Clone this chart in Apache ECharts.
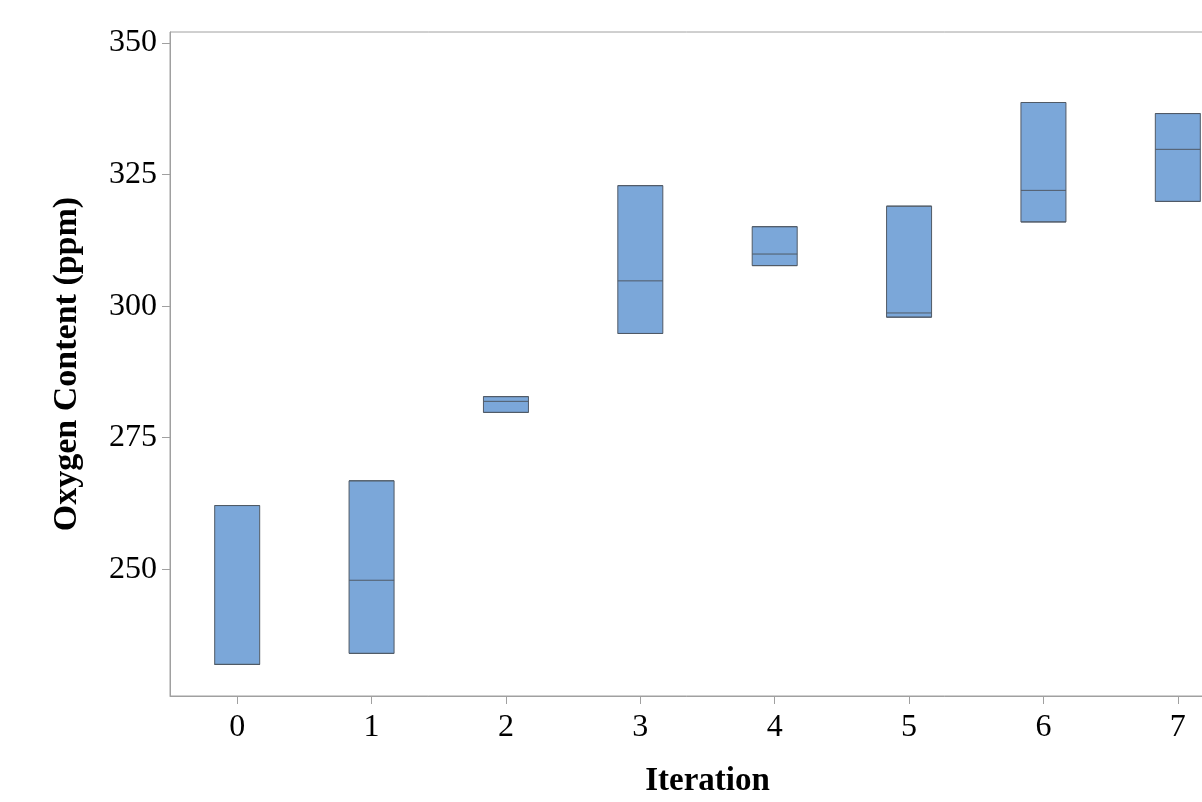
<!DOCTYPE html>
<html>
<head>
<meta charset="utf-8">
<style>
  html, body { margin: 0; padding: 0; background: #ffffff; }
  #chart { width: 1202px; height: 802px; }
</style>
<script src="https://cdn.jsdelivr.net/npm/echarts@6/dist/echarts.min.js"></script>
</head>
<body>
<div id="chart"></div>
<script>
// Oxygen content by iteration: lower quartile, median, upper quartile (ppm)
const iterations = ['0', '1', '2', '3', '4', '5', '6', '7'];
const lowerQuartile = [231.9, 234.0, 279.8, 294.8, 307.7, 297.9, 316.0, 319.9];
const medianValue  = [231.9, 247.9, 281.9, 304.8, 309.9, 298.7, 322.0, 329.8];
const upperQuartile = [262.1, 266.8, 282.8, 322.9, 315.1, 319.0, 338.7, 336.6];
const yTicks = [250, 275, 300, 325, 350];

// Boxes without whiskers: min/max collapse onto the quartiles
const boxData = iterations.map((_, i) => [
  lowerQuartile[i], lowerQuartile[i], medianValue[i], upperQuartile[i], upperQuartile[i]
]);

const serif = '"Liberation Serif", "Times New Roman", serif';
const axisGray = '#a0a0a0';

const chart = echarts.init(document.getElementById('chart'), null, { renderer: 'canvas' });
chart.setOption({
  animation: false,
  backgroundColor: '#ffffff',
  grid: {
    left: 170, top: 32, width: 1075, height: 664,
    outerBoundsMode: 'none',
    containLabel: false,
    show: true, borderColor: axisGray, borderWidth: 1, backgroundColor: 'transparent'
  },
  xAxis: {
    type: 'category',
    data: iterations,
    boundaryGap: true,
    name: 'Iteration',
    nameLocation: 'middle',
    nameGap: 69,
    nameTextStyle: { fontFamily: serif, fontWeight: 'bold', fontSize: 33, color: '#000' },
    axisLine: { show: true, lineStyle: { color: axisGray, width: 1 } },
    axisTick: { show: true, alignWithLabel: true, length: 8, lineStyle: { color: axisGray, width: 1 } },
    axisLabel: { fontFamily: serif, fontSize: 32, color: '#000', margin: 16 },
    splitLine: { show: false }
  },
  yAxis: {
    type: 'value',
    min: 225.9,
    max: 352.1,
    name: 'Oxygen Content (ppm)',
    nameLocation: 'middle',
    nameGap: 86,
    nameRotate: 90,
    nameTextStyle: { fontFamily: serif, fontWeight: 'bold', fontSize: 34, color: '#000' },
    axisLine: { show: true, lineStyle: { color: axisGray, width: 1 } },
    axisTick: { show: true, length: 8, customValues: yTicks, lineStyle: { color: axisGray, width: 1 } },
    axisLabel: { fontFamily: serif, fontSize: 32, color: '#000', margin: 13, customValues: yTicks },
    splitLine: { show: false }
  },
  series: [{
    type: 'boxplot',
    data: boxData,
    boxWidth: [45, 45],
    itemStyle: { color: '#7ba7d9', borderColor: '#505a66', borderWidth: 1 },
    emphasis: { disabled: true }
  }]
});
</script>
</body>
</html>
